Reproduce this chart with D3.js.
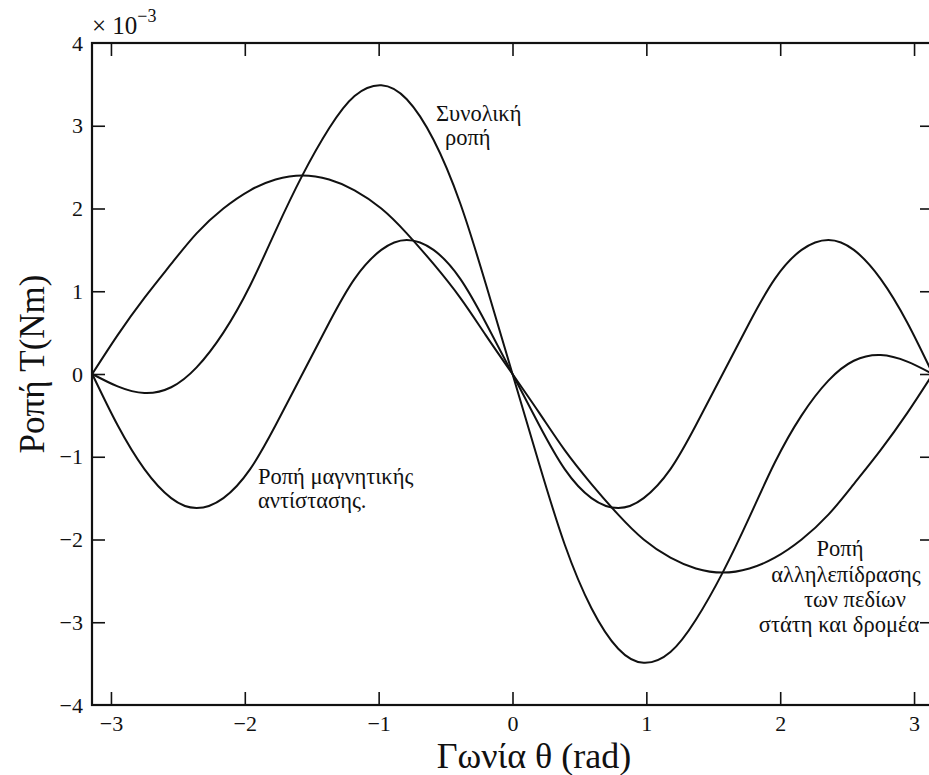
<!DOCTYPE html>
<html>
<head>
<meta charset="utf-8">
<script src="https://cdn.jsdelivr.net/npm/d3@7"></script>
<style>
	body { margin: 0; background: #fff; }
</style>
</head>
<body>
<div id="graphicContainer"></div>
<script>

// angle (rad), sampled every ~pi/16 along the curves
var angles = [-3.14, -2.95, -2.75, -2.55, -2.36, -2.16, -1.96, -1.77, -1.57, -1.37, -1.18, -0.98, -0.79, -0.59, -0.39, -0.20,
	0, 0.20, 0.39, 0.59, 0.79, 0.98, 1.18, 1.37, 1.57, 1.77, 1.96, 2.16, 2.36, 2.55, 2.75, 2.95, 3.14]

// torque values, x 10^-3 Nm
var interaction = [0, 0.47, 0.92, 1.33, 1.70, 2.00, 2.22, 2.35, 2.40, 2.35, 2.22, 2.00, 1.70, 1.33, 0.92, 0.47,
	0, -0.47, -0.92, -1.33, -1.70, -2.00, -2.22, -2.35, -2.40, -2.35, -2.22, -2.00, -1.70, -1.33, -0.92, -0.47, 0]

var reluctance = [0, -0.62, -1.15, -1.50, -1.62, -1.50, -1.15, -0.62, 0, 0.62, 1.15, 1.50, 1.62, 1.50, 1.15, 0.62,
	0, -0.62, -1.15, -1.50, -1.62, -1.50, -1.15, -0.62, 0, 0.62, 1.15, 1.50, 1.62, 1.50, 1.15, 0.62, 0]

var total = [0, -0.15, -0.23, -0.16, 0.08, 0.50, 1.07, 1.73, 2.40, 2.97, 3.36, 3.49, 3.32, 2.83, 2.06, 1.09,
	0, -1.09, -2.06, -2.83, -3.32, -3.49, -3.36, -2.97, -2.40, -1.73, -1.07, -0.50, -0.08, 0.16, 0.23, 0.15, 0]

var xTicks = [-3, -2, -1, 0, 1, 2, 3]
var yTicks = [-4, -3, -2, -1, 0, 1, 2, 3, 4]

var annotations = [
	{ lines: ["Συνολική", "ροπή"], x: [436, 445], y: [121, 145], anchor: "start" },
	{ lines: ["Ροπή μαγνητικής", "αντίστασης."], x: [258, 258], y: [484, 508], anchor: "start" },
	{ lines: ["Ροπή", "αλληλεπίδρασης", "των πεδίων", "στάτη και δρομέα"], x: [840, 846, 855, 839], y: [556, 582, 607, 632], anchor: "middle" }
]

var serif = "'Liberation Serif', 'Noto Serif', 'DejaVu Serif', serif"

var width = 929
var height = 775

var svg = d3.select("#graphicContainer").append("svg")
	.attr("width", width)
	.attr("height", height)
	.style("font-family", serif)

svg.append("rect").attr("width", width).attr("height", height).attr("fill", "#fff")

var x = d3.scaleLinear().domain([-Math.PI, Math.PI]).range([92, 933])
var y = d3.scaleLinear().domain([-4, 4]).range([705, 43])

var tickLen = 13
var fmt = d3.format("d")

// axes, ticks pointing inwards on all four sides
var bottom = svg.append("g").attr("transform", "translate(0," + y(-4) + ")")
	.call(d3.axisBottom(x).tickValues(xTicks).tickFormat(fmt).tickSize(-tickLen).tickSizeOuter(0).tickPadding(10))
var top_ = svg.append("g").attr("transform", "translate(0," + y(4) + ")")
	.call(d3.axisTop(x).tickValues(xTicks).tickSize(-tickLen).tickSizeOuter(0).tickFormat(""))
var left = svg.append("g").attr("transform", "translate(" + x(-Math.PI) + ",0)")
	.call(d3.axisLeft(y).tickValues(yTicks).tickFormat(fmt).tickSize(-tickLen).tickSizeOuter(0).tickPadding(9))
var right = svg.append("g").attr("transform", "translate(" + x(Math.PI) + ",0)")
	.call(d3.axisRight(y).tickValues(yTicks).tickSize(-tickLen).tickSizeOuter(0).tickFormat(""))

;[bottom, top_, left, right].forEach(function(g) {
	g.attr("font-family", null)
	g.select(".domain").remove()
	g.selectAll(".tick line").attr("stroke", "#111").attr("stroke-width", 1.6)
	g.selectAll(".tick text").style("font-family", serif).attr("font-size", 22).attr("fill", "#111")
})

// hide the end ticks that sit on the frame
left.selectAll(".tick").filter(function(d) { return d === 4 || d === -4 }).select("line").remove()
right.selectAll(".tick").filter(function(d) { return d === 4 || d === -4 }).select("line").remove()

// frame
svg.append("rect")
	.attr("x", x(-Math.PI))
	.attr("y", y(4))
	.attr("width", x(Math.PI) - x(-Math.PI))
	.attr("height", y(-4) - y(4))
	.attr("fill", "none")
	.attr("stroke", "#111")
	.attr("stroke-width", 2.2)

// curves
var line = d3.line()
	.x(function(d) { return x(d[0]) })
	.y(function(d) { return y(d[1]) })
	.curve(d3.curveNatural)

;[interaction, reluctance, total].forEach(function(series) {
	svg.append("path")
		.datum(angles.map(function(a, i) { return [a, series[i]] }))
		.attr("fill", "none")
		.attr("stroke", "#111")
		.attr("stroke-width", 2)
		.attr("d", line)
})

// exponent label
var expo = svg.append("text").attr("x", 92).attr("y", 34).attr("font-size", 25).attr("fill", "#111")
expo.append("tspan").text("× 10")
expo.append("tspan").attr("dy", -12).attr("font-size", 18).text("−3")

// axis titles
svg.append("text")
	.attr("x", 534)
	.attr("y", 768)
	.attr("text-anchor", "middle")
	.attr("font-size", 36)
	.attr("fill", "#111")
	.text("Γωνία θ (rad)")

svg.append("text")
	.attr("transform", "translate(44,364) rotate(-90)")
	.attr("text-anchor", "middle")
	.attr("font-size", 35)
	.attr("fill", "#111")
	.text("Ροπή T(Nm)")

// curve annotations
annotations.forEach(function(a) {
	a.lines.forEach(function(t, i) {
		svg.append("text")
			.attr("x", a.x[i])
			.attr("y", a.y[i])
			.attr("text-anchor", a.anchor)
			.attr("font-size", 22.5)
			.attr("fill", "#111")
			.text(t)
	})
})

</script>
</body>
</html>
